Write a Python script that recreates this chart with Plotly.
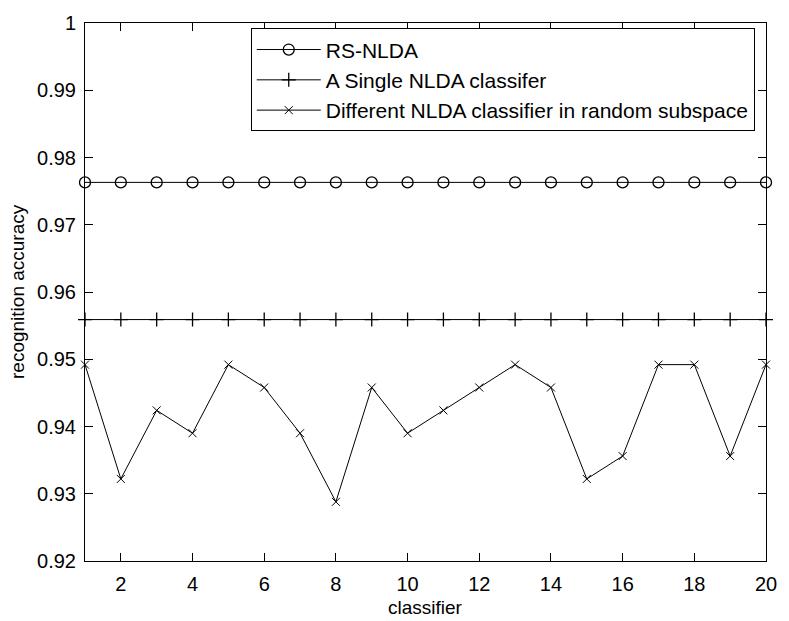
import plotly.graph_objects as go

classifiers = list(range(1, 21))
rs_nlda = [0.9763] * 20
single_nlda = [0.9559] * 20
different_nlda = [0.9492, 0.9322, 0.9424, 0.9390, 0.9492, 0.9458, 0.9390, 0.9288, 0.9458, 0.9390,
                  0.9424, 0.9458, 0.9492, 0.9458, 0.9322, 0.9356, 0.9492, 0.9492, 0.9356, 0.9492]

y_ticks = [0.92, 0.93, 0.94, 0.95, 0.96, 0.97, 0.98, 0.99, 1.0]
y_tick_labels = ["0.92", "0.93", "0.94", "0.95", "0.96", "0.97", "0.98", "0.99", "1"]
x_ticks = [2, 4, 6, 8, 10, 12, 14, 16, 18, 20]

FONT = "Liberation Sans, Arial, sans-serif"

fig = go.Figure()
fig.add_trace(go.Scatter(
    x=classifiers, y=rs_nlda, mode="lines+markers", name="RS-NLDA",
    line=dict(color="black", width=1),
    marker=dict(symbol="circle-open", size=11, color="black", line=dict(width=1.3)),
    cliponaxis=False))
fig.add_trace(go.Scatter(
    x=classifiers, y=single_nlda, mode="lines+markers", name="A Single NLDA classifer",
    line=dict(color="black", width=1),
    marker=dict(symbol="cross-thin-open", size=10, color="black", line=dict(width=1.3, color="black")),
    cliponaxis=False))
fig.add_trace(go.Scatter(
    x=classifiers, y=different_nlda, mode="lines+markers",
    name="Different NLDA classifier in random subspace",
    line=dict(color="black", width=1),
    marker=dict(symbol="x-thin-open", size=8, color="black", line=dict(width=1, color="black")),
    cliponaxis=False))

axis_common = dict(showline=True, linecolor="black", linewidth=1, mirror="ticks",
                   ticks="inside", ticklen=8, tickcolor="black", tickwidth=1,
                   showgrid=False, zeroline=False,
                   tickfont=dict(family=FONT, size=20, color="black"))

fig.update_layout(
    width=789, height=621,
    margin=dict(l=85, r=19, t=15, b=60),
    paper_bgcolor="white", plot_bgcolor="white",
    font=dict(family=FONT, size=18, color="black"),
    xaxis=dict(range=[1, 20], tickvals=x_ticks, ticklabelstandoff=5, **axis_common),
    yaxis=dict(range=[0.92, 1.0], tickvals=y_ticks, ticktext=y_tick_labels,
               ticklabelstandoff=4, **axis_common),
    showlegend=True,
    legend=dict(x=0.2434, y=0.99, xanchor="left", yanchor="top",
                bgcolor="white", bordercolor="black", borderwidth=1,
                font=dict(family=FONT, size=21, color="black"),
                itemwidth=64, tracegroupgap=0),
    annotations=[
        dict(text="classifier", xref="paper", yref="paper", x=0.5, y=0,
             yshift=-46, xanchor="center", yanchor="middle", showarrow=False,
             font=dict(family=FONT, size=19, color="black")),
        dict(text="recognition accuracy", xref="paper", yref="paper", x=0, y=0.5,
             xshift=-68, xanchor="center", yanchor="middle", textangle=-90,
             showarrow=False, font=dict(family=FONT, size=19, color="black")),
    ],
)

fig.write_html("out.html")
